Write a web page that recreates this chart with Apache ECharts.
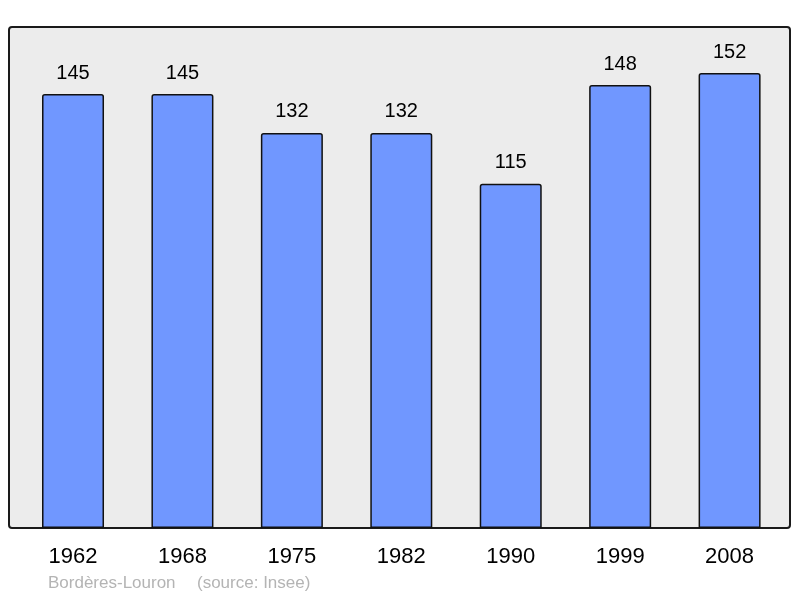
<!DOCTYPE html>
<html>
<head>
<meta charset="utf-8">
<script src="https://cdn.jsdelivr.net/npm/echarts@6/dist/echarts.min.js"></script>
<style>html,body{margin:0;padding:0;background:#fff;}#c{width:800px;height:598px;}</style>
</head>
<body>
<div id="c"></div>
<script>
const categories = ['1962','1968','1975','1982','1990','1999','2008'];
const population = [145,145,132,132,115,148,152];

const chart = echarts.init(document.getElementById('c'));
chart.setOption({
  animation: false,
  backgroundColor: '#ffffff',
  graphic: [
    { type: 'rect', z: -10, shape: { x: 9, y: 27, width: 781, height: 501, r: 3 },
      style: { fill: '#ececec', stroke: '#1a1a1a', lineWidth: 2 } },
    { type: 'text', left: 48, top: 575, style: { text: 'Bordères-Louron', fill: '#b4b4b4', font: '17px "Liberation Sans", Arial, sans-serif' } },
    { type: 'text', left: 197, top: 575, style: { text: '(source: Insee)', fill: '#b4b4b4', font: '17px "Liberation Sans", Arial, sans-serif' } }
  ],
  grid: { left: 18.3, right: 15.7, top: 27, bottom: 70, containLabel: false },
  xAxis: {
    type: 'category', data: categories,
    axisLine: { show: false }, axisTick: { show: false },
    axisLabel: { color: '#000', fontSize: 22, margin: 18, fontFamily: '"Liberation Sans", Arial, sans-serif' }
  },
  yAxis: {
    type: 'value', min: 0, max: 167.4,
    show: false, splitLine: { show: false }
  },
  series: [{
    type: 'bar', data: population, barWidth: 62,
    itemStyle: { color: '#7097ff', borderColor: '#111', borderWidth: 1.5, borderRadius: [2,2,0,0] },
    label: { show: true, position: 'top', distance: 11, color: '#000', fontSize: 20, fontFamily: '"Liberation Sans", Arial, sans-serif' }
  }]
});
</script>
</body>
</html>
